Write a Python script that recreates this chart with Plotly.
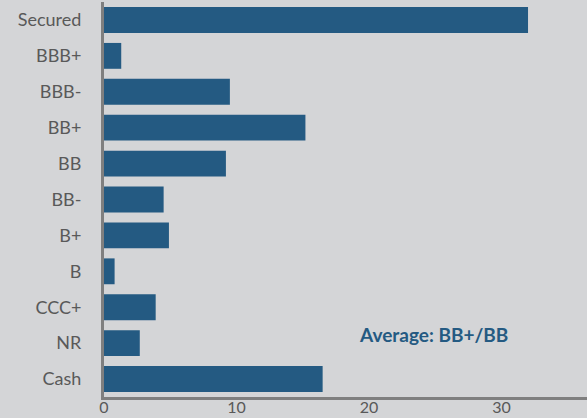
import plotly.graph_objects as go

categories = ["Secured", "BBB+", "BBB-", "BB+", "BB", "BB-", "B+", "B", "CCC+", "NR", "Cash"]
values = [32.0, 1.3, 9.5, 15.2, 9.2, 4.5, 4.9, 0.8, 3.9, 2.7, 16.5]
x_ticks = [0, 10, 20, 30]
note = "Average: BB+/BB"

bar_color = "#245a82"
bg = "#d4d5d7"
text_gray = "#595959"

fig = go.Figure(go.Bar(
    x=values, y=categories, orientation="h",
    marker=dict(color=bar_color, line=dict(width=0)),
))

fig.update_layout(
    width=587, height=418,
    margin=dict(l=104, r=0, t=2, b=21),
    paper_bgcolor=bg, plot_bgcolor=bg,
    bargap=0.28,
    showlegend=False,
    font=dict(family="Lato", size=18, color=text_gray),
)
fig.update_xaxes(
    range=[0, 36.45], tickvals=x_ticks, showgrid=False, zeroline=False,
    showline=True, linecolor="#7f7f7f", linewidth=3, automargin=False,
    ticklabelstandoff=-6,
    tickfont=dict(family="Lato", size=16, color=text_gray),
)
fig.update_yaxes(
    autorange="reversed", showgrid=False, zeroline=False,
    showline=True, linecolor="#7f7f7f", linewidth=3, automargin=False,
    ticklabelstandoff=16,
    tickfont=dict(family="Lato", size=18, color=text_gray),
)
fig.add_annotation(
    x=24.9, xref="x", y=0.159, yref="paper", text="<b>" + note + "</b>",
    showarrow=False, font=dict(family="Lato", size=19, color=bar_color),
    xanchor="center", yanchor="middle",
)
fig.write_html(
    "out.html",
    config={"displayModeBar": False},
    post_script="document.body.style.margin='0';document.body.style.background='%s';" % bg,
)
